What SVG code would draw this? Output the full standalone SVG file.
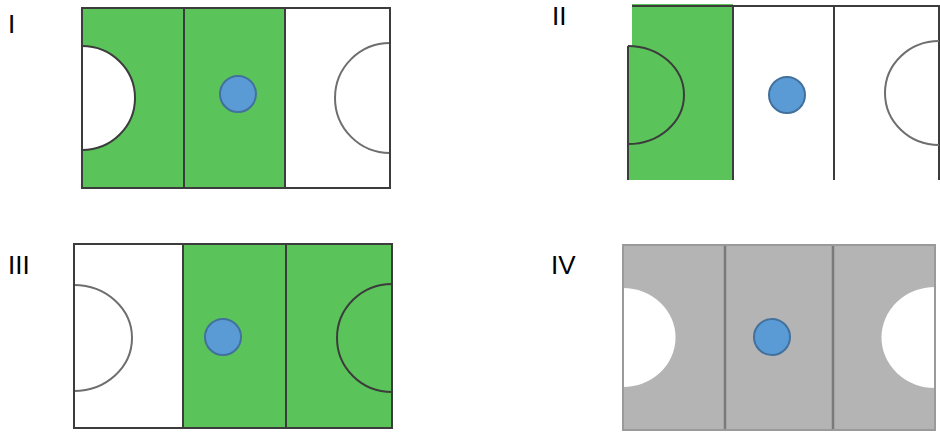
<svg xmlns="http://www.w3.org/2000/svg" width="940" height="436" viewBox="0 0 940 436">
  <style>
    .lbl { font-family: "Liberation Sans", Arial, sans-serif; font-size: 26px; fill: #000; }
    .green { fill: #5ac35a; }
    .line { stroke: #3c3c3c; stroke-width: 2; fill: none; }
    .faint { stroke: #6e6e6e; stroke-width: 2; fill: none; }
    .ball { fill: #5b9bd5; stroke: #41719c; stroke-width: 2; }
    .grey { fill: #b4b4b4; }
    .gline { stroke: #7a7a7a; stroke-width: 2.5; fill: none; }
  </style>
  <rect width="940" height="436" fill="#fff"/>

  <g id="court-I">
    <text class="lbl" x="8" y="33">I</text>
    <rect x="82" y="8" width="308" height="180" fill="#fff"/>
    <rect class="green" x="82" y="8" width="203" height="180"/>
    <path d="M82 46 A53 52 0 0 1 82 150 Z" fill="#fff"/>
    <path class="line" d="M82 46 A53 52 0 0 1 82 150"/>
    <path class="faint" d="M390 43 A55 55 0 0 0 390 153"/>
    <line class="line" x1="184" y1="8" x2="184" y2="188"/>
    <line class="line" x1="285" y1="8" x2="285" y2="188"/>
    <rect class="line" x="82" y="8" width="308" height="180"/>
    <circle class="ball" cx="238" cy="94" r="18"/>
  </g>

  <g id="court-II">
    <text class="lbl" x="552" y="25" font-size="24">II</text>
    <path class="green" d="M632 4 H733 V180 H628 V46 H632 Z"/>
    <path class="line" d="M628 46 V180"/>
    <path class="line" d="M632 6 H939 V180"/>
    <path class="line" d="M628 46 A56 49 0 0 1 628 144"/>
    <path class="faint" d="M939 41 A54 52 0 0 0 939 145"/>
    <line class="line" x1="733" y1="6" x2="733" y2="180"/>
    <line class="line" x1="834" y1="6" x2="834" y2="180"/>
    <circle class="ball" cx="787" cy="95" r="18"/>
  </g>

  <g id="court-III">
    <text class="lbl" x="8" y="274">III</text>
    <rect x="74" y="244" width="318" height="184" fill="#fff"/>
    <rect class="green" x="183" y="244" width="209" height="184"/>
    <path class="faint" d="M74 285 A58 53 0 0 1 74 391"/>
    <path class="line" d="M392 284 A55 54 0 0 0 392 392"/>
    <line class="line" x1="183" y1="244" x2="183" y2="428"/>
    <line class="line" x1="286" y1="244" x2="286" y2="428"/>
    <rect class="line" x="74" y="244" width="318" height="184"/>
    <circle class="ball" cx="223" cy="337" r="18"/>
  </g>

  <g id="court-IV">
    <text class="lbl" x="551" y="274">IV</text>
    <rect class="grey" x="623" y="245" width="312" height="185"/>
    <path d="M623 288 A52 49 0 0 1 623 387 Z" fill="#fff"/>
    <path d="M935 287 A53 50 0 0 0 935 388 Z" fill="#fff"/>
    <line class="gline" x1="725" y1="245" x2="725" y2="430"/>
    <line class="gline" x1="833" y1="245" x2="833" y2="430"/>
    <rect x="623" y="245" width="312" height="185" fill="none" stroke="#9a9a9a" stroke-width="2"/>
    <circle class="ball" cx="772" cy="337" r="18"/>
  </g>
</svg>
